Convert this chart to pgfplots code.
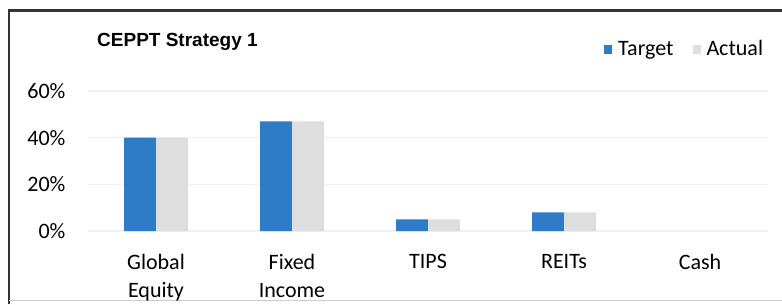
\documentclass[border=0pt]{standalone}
\usepackage{fontspec}
\setmainfont{Carlito}
\newfontfamily\titlefont{Liberation Sans}
\usepackage{pgfplots}
\pgfplotsset{compat=1.18}
\definecolor{tblue}{HTML}{2E7BC6}
\definecolor{agray}{HTML}{DEDEDE}
\definecolor{gridc}{HTML}{F1F1F1}
\begin{document}
\fontsize{22bp}{28bp}\selectfont
\begin{tikzpicture}[x=1bp,y=1bp]
\path[use as bounding box] (0,0) rectangle (782,304);
\draw[line width=2.2bp, black!80] (9,0) -- (9,293.5) -- (782,293.5);
\draw[line width=0.8bp, black!20] (9,4) -- (782,4);
\node[anchor=west, font=\titlefont\bfseries\fontsize{19bp}{22bp}\selectfont, inner sep=0pt] at (97,262) {CEPPT Strategy 1};
\begin{axis}[
  at={(88bp,73bp)}, anchor=south west,
  scale only axis, width=680bp, height=140bp,
  xmin=-0.5, xmax=4.5, ymin=0, ymax=60,
  ybar=0pt, bar width=32bp,
  xtick={0,1,2,3,4},
  xticklabels={Global\\Equity, Fixed\\Income, TIPS, REITs, Cash},
  xticklabel style={align=center, anchor=north, yshift=-16bp, font=\fontsize{22bp}{28bp}\selectfont},
  ytick={0,20,40,60},
  yticklabels={0\%,20\%,40\%,60\%},
  yticklabel style={xshift=-15bp, font=\fontsize{22bp}{28bp}\selectfont},
  /pgf/number format/assume math mode=true,
  major tick length=0pt,
  axis line style={draw=none},
  ymajorgrids, grid style={gridc, line width=1.2bp},
  legend columns=2,
  legend style={draw=none, fill=none, at={(0.993,1.293)}, anchor=east, inner sep=0pt,
    font=\fontsize{22bp}{28bp}\selectfont,
    nodes={inner sep=0pt},
    /tikz/every even column/.append style={column sep=19bp}},
  legend cell align=left,
  legend image code/.code={\fill[#1] (0bp,-4.5bp) rectangle (8bp,4.5bp); \path (0bp,0bp) -- (14bp,0bp);},
]
\addplot[fill=tblue, draw=none] coordinates {(0,40) (1,47) (2,5) (3,8)};
\addplot[fill=agray, draw=none] coordinates {(0,40) (1,47) (2,5) (3,8)};
\legend{Target, Actual}
\end{axis}
\end{tikzpicture}
\end{document}
